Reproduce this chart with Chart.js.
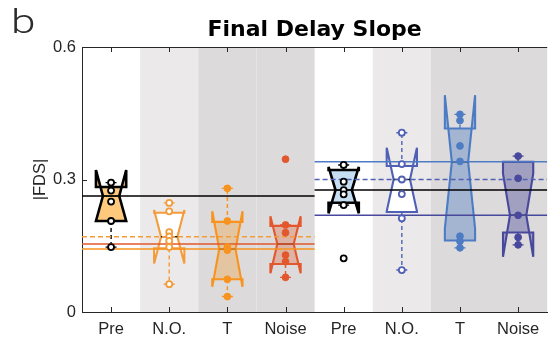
<!DOCTYPE html>
<html>
<head>
<meta charset="utf-8">
<script src="https://cdn.jsdelivr.net/npm/chart.js@4"></script>
<style>
  html, body { margin: 0; padding: 0; background: #fff; }
  #wrap { width: 552px; height: 340px; }
</style>
</head>
<body>
<div id="wrap"><canvas id="c"></canvas></div>
<script>
// ---- data -------------------------------------------------------------
const categories = ['Pre', 'N.O.', 'T', 'Noise', 'Pre', 'N.O.', 'T', 'Noise'];
const yTicks = [0, 0.3, 0.6];

// notched box statistics, one entry per category
const q1        = [0.206, 0.144, 0.074, 0.1087, 0.2475, 0.2264, 0.162, 0.180];
const q3        = [0.283, 0.2248, 0.204, 0.195, 0.3215, 0.3305, 0.4155, 0.340];
const medians   = [0.2626, 0.1705, 0.1425, 0.154, 0.276, 0.300, 0.340, 0.219];
const notchLo   = [0.206, 0.110, 0.057, 0.0876, 0.2235, 0.228, 0.189, 0.125];
const notchHi   = [0.3215, 0.231, 0.228, 0.217, 0.3285, 0.372, 0.491, 0.313];
const whiskerLo = [0.147, 0.063, 0.035, 0.0785, 0.242, 0.095, 0.1453, 0.152];
const whiskerHi = [0.293, 0.247, 0.280, 0.197, 0.333, 0.406, 0.4475, 0.353];

// individual |FDS| values per category
const preLeft    = [0.293, 0.275, 0.250, 0.206, 0.147];
const noLeft     = [0.247, 0.228, 0.181, 0.171, 0.161, 0.147, 0.063];
const tLeft      = [0.280, 0.206, 0.147, 0.140, 0.074, 0.035];
const noiseLeft  = [0.346, 0.197, 0.1795, 0.129, 0.114, 0.0785];
const preRight   = [0.333, 0.295, 0.276, 0.2665, 0.242, 0.1215];
const noRight    = [0.406, 0.335, 0.300, 0.267, 0.212, 0.095];
const tRight     = [0.4475, 0.4335, 0.376, 0.341, 0.1716, 0.160, 0.1453];
const noiseRight = [0.353, 0.3027, 0.219, 0.169, 0.152];
const samples = [preLeft, noLeft, tLeft, noiseLeft, preRight, noRight, tRight, noiseRight];

// ---- styles -----------------------------------------------------------
const edge = ['#000000', '#f39c3c', '#f7931e', '#e2582c', '#000000', '#5060b4', '#4e7cc4', '#48489c'];
const fill = ['#fdc97d', '#ffffff', 'rgba(247,148,30,0.30)', 'rgba(226,88,44,0.30)',
              '#c6def2', '#ffffff', 'rgba(78,124,196,0.40)', 'rgba(72,72,156,0.40)'];
const openMarker = [true, true, false, false, true, true, false, false];
const dashedRef  = [false, true, false, false, false, true, false, false];
const bandShade  = [null, '#ebe9ea', '#dcdadb', '#dcdadb', null, '#ebe9ea', '#dcdadb', '#dcdadb'];
const FONT = '"Liberation Sans", Arial, sans-serif';
const TEXT = '#262626';

// ---- datasets ---------------------------------------------------------
const datasets = [];
samples.forEach((vals, i) => {
  datasets.push({
    type: 'scatter',
    order: 0,
    data: vals.map(v => ({ x: i + 1, y: v })),
    pointRadius: openMarker[i] ? 3 : 3.4,
    pointBorderWidth: openMarker[i] ? 1.8 : 1,
    pointBackgroundColor: openMarker[i] ? '#ffffff' : edge[i],
    pointBorderColor: edge[i],
    pointHoverRadius: 3
  });
});
// group reference lines at each condition's median
medians.forEach((m, i) => {
  const start = i < 4 ? 0.5 : 4.5;
  datasets.push({
    type: 'line',
    order: 1,
    data: [{ x: start, y: m }, { x: start + 4, y: m }],
    borderColor: edge[i],
    borderWidth: 1.5,
    borderDash: dashedRef[i] ? [5, 3] : [],
    pointRadius: 0,
    fill: false
  });
});

// ---- plugins ----------------------------------------------------------
const bands = {
  id: 'bands',
  beforeDraw(chart) {
    const { ctx, chartArea: a, scales: { x } } = chart;
    ctx.save();
    bandShade.forEach((c, i) => {
      if (!c) return;
      const x0 = x.getPixelForValue(i + 0.5), x1 = x.getPixelForValue(i + 1.5);
      ctx.fillStyle = c;
      ctx.fillRect(x0, a.top, x1 - x0, a.bottom - a.top);
    });
    ctx.restore();
  }
};

const notchedBoxes = {
  id: 'notchedBoxes',
  beforeDatasetsDraw(chart) {
    const { ctx, scales: { x, y } } = chart;
    const slot = x.getPixelForValue(2) - x.getPixelForValue(1);
    const hw = slot * 0.26, inset = hw * 0.46, cap = 5.5;
    ctx.save();
    categories.forEach((_, i) => {
      const cx = x.getPixelForValue(i + 1);
      const L = cx - hw, R = cx + hw;
      const Y = v => y.getPixelForValue(v);
      const yq1 = Y(q1[i]), yq3 = Y(q3[i]), ym = Y(medians[i]);
      const ynl = Y(notchLo[i]), ynh = Y(notchHi[i]);
      const ywl = Y(whiskerLo[i]), ywh = Y(whiskerHi[i]);
      const lw = edge[i] === '#000000' ? 2.6 : 2.1;

      // whiskers
      ctx.strokeStyle = edge[i];
      ctx.lineWidth = 1.4;
      ctx.setLineDash([4, 3]);
      ctx.beginPath();
      ctx.moveTo(cx, yq3); ctx.lineTo(cx, ywh);
      ctx.moveTo(cx, yq1); ctx.lineTo(cx, ywl);
      ctx.stroke();
      ctx.setLineDash([]);
      ctx.beginPath();
      ctx.moveTo(cx - cap, ywh); ctx.lineTo(cx + cap, ywh);
      ctx.moveTo(cx - cap, ywl); ctx.lineTo(cx + cap, ywl);
      ctx.stroke();

      // notched box outline
      ctx.beginPath();
      ctx.moveTo(L, yq1);
      ctx.lineTo(L, ynl);
      ctx.lineTo(L + inset, ym);
      ctx.lineTo(L, ynh);
      ctx.lineTo(L, yq3);
      ctx.lineTo(R, yq3);
      ctx.lineTo(R, ynh);
      ctx.lineTo(R - inset, ym);
      ctx.lineTo(R, ynl);
      ctx.lineTo(R, yq1);
      ctx.closePath();
      ctx.fillStyle = fill[i];
      ctx.fill();
      ctx.lineJoin = 'miter';
      ctx.miterLimit = 3;
      ctx.lineWidth = lw;
      ctx.stroke();

      // median
      ctx.strokeStyle = '#1a1a1a';
      ctx.lineWidth = 1.4;
      ctx.beginPath();
      ctx.moveTo(L + inset, ym); ctx.lineTo(R - inset, ym);
      ctx.stroke();
    });
    ctx.restore();
  }
};

const frame = {
  id: 'frame',
  afterDraw(chart) {
    const { ctx, chartArea: a, scales: { x, y } } = chart;
    ctx.save();
    ctx.strokeStyle = '#262626';
    ctx.lineWidth = 1;
    ctx.beginPath();
    ctx.moveTo(a.left, a.top + 0.5); ctx.lineTo(a.right, a.top + 0.5);
    categories.forEach((_, i) => {
      const px = Math.round(x.getPixelForValue(i + 1)) + 0.5;
      ctx.moveTo(px, a.top); ctx.lineTo(px, a.top + 5);
      ctx.moveTo(px, a.bottom); ctx.lineTo(px, a.bottom - 5);
    });
    yTicks.forEach(v => {
      const py = Math.round(y.getPixelForValue(v)) + 0.5;
      ctx.moveTo(a.left, py); ctx.lineTo(a.left + 5, py);
    });
    ctx.stroke();

    // panel letter
    ctx.fillStyle = '#2b2b2b';
    ctx.font = '300 34px Roboto, ' + FONT;
    ctx.textBaseline = 'alphabetic';
    ctx.translate(11, 33);
    ctx.scale(1.3, 1);
    ctx.fillText('b', 0, 0);
    ctx.restore();
  }
};

// ---- chart ------------------------------------------------------------
new Chart(document.getElementById('c'), {
  data: { datasets },
  plugins: [bands, notchedBoxes, frame],
  options: {
    responsive: true,
    maintainAspectRatio: false,
    animation: false,
    layout: { padding: { top: 0, right: 4, left: 0, bottom: 0 } },
    plugins: {
      legend: { display: false },
      tooltip: { enabled: false },
      title: {
        display: true,
        text: 'Final Delay Slope',
        fullSize: false,
        color: '#000',
        font: { family: '"DejaVu Sans", sans-serif', size: 22, weight: 'bold' },
        padding: { top: 17, bottom: 3.6 }
      }
    },
    scales: {
      x: {
        type: 'linear',
        min: 0.5,
        max: 8.5,
        grid: { display: false, drawTicks: false },
        border: { display: true, color: '#262626', width: 1 },
        afterBuildTicks: s => { s.ticks = categories.map((_, i) => ({ value: i + 1 })); },
        afterFit: s => { s.height = 28; },
        ticks: {
          autoSkip: false,
          maxRotation: 0,
          padding: 7.5,
          color: TEXT,
          font: { family: FONT, size: 16.5 },
          callback: (v, idx) => categories[idx]
        }
      },
      y: {
        type: 'linear',
        min: 0,
        max: 0.6,
        grid: { display: false, drawTicks: false },
        border: { display: true, color: '#262626', width: 1 },
        afterBuildTicks: s => { s.ticks = yTicks.map(v => ({ value: v })); },
        afterFit: s => { s.width = 82; },
        ticks: {
          padding: 6,
          color: TEXT,
          font: { family: FONT, size: 16.5 },
          callback: v => String(v)
        },
        title: {
          display: true,
          text: '|FDS|',
          color: TEXT,
          font: { family: FONT, size: 16.5 },
          padding: { top: 31, bottom: 0 }
        }
      }
    }
  }
});
</script>
</body>
</html>
